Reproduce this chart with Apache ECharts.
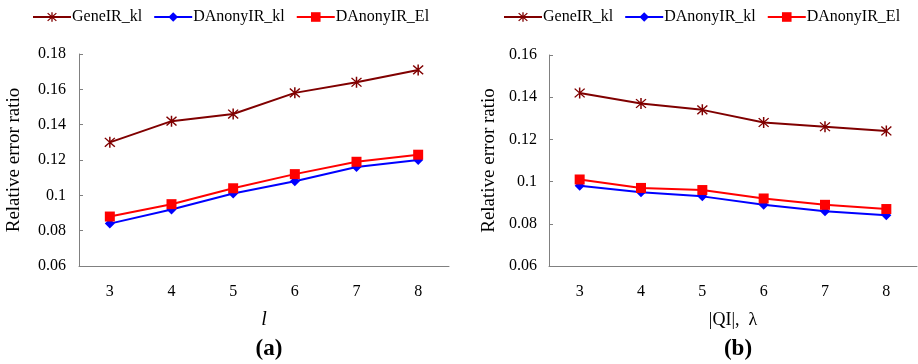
<!DOCTYPE html>
<html><head><meta charset="utf-8">
<script src="https://cdn.jsdelivr.net/npm/echarts@6/dist/echarts.min.js"></script>
<style>html,body{margin:0;padding:0;background:#fff}#c{width:918px;height:364px}</style>
</head><body><div id="c"></div>
<script>
const categories = ['3','4','5','6','7','8'];
const seriesNames = ['GeneIR_kl','DAnonyIR_kl','DAnonyIR_El'];
// Panel (a): x = l
const a_GeneIR_kl   = [0.130,0.142,0.146,0.158,0.164,0.171];
const a_DAnonyIR_kl = [0.084,0.092,0.101,0.108,0.116,0.120];
const a_DAnonyIR_El = [0.088,0.095,0.104,0.112,0.119,0.123];
// Panel (b): x = |QI|, lambda
const b_GeneIR_kl   = [0.142,0.137,0.134,0.128,0.126,0.124];
const b_DAnonyIR_kl = [0.098,0.095,0.093,0.089,0.086,0.084];
const b_DAnonyIR_El = [0.101,0.097,0.096,0.092,0.089,0.087];

const FONT = 'Liberation Serif';
const colors = ['#800000','#0000ff','#ff0000'];
const star = 'path://M4.4 0L5.6 0L5.6 10L4.4 10Z M0.6 1.4L1.4 0.6L9.4 8.6L8.6 9.4Z M8.6 0.6L9.4 1.4L1.4 9.4L0.6 8.6Z';
const symbols = [star,'diamond','rect'];
const sizes = [11,10,10];

const chart = echarts.init(document.getElementById('c'));
const axisLine = {lineStyle:{color:'#808080',width:1}};
const axisTick = {inside:true,length:4,lineStyle:{color:'#808080'}};
const lbl = {color:'#000',fontFamily:FONT,fontSize:16};

function mk(name, data, i, gi){
  return {name, type:'line', xAxisIndex:gi, yAxisIndex:gi, data,
    symbol:symbols[i], symbolSize:sizes[i], showSymbol:true,
    lineStyle:{color:colors[i],width:2}, itemStyle:{color:colors[i]}, z: i===2?3:(i===1?2:4), animation:false};
}
const legendBase = {orient:'horizontal',width:440,itemWidth:38,itemHeight:12,itemGap:11,selectedMode:false,
  textStyle:{color:'#000',fontFamily:FONT,fontSize:16,padding:[0,0,0,-4]},data:seriesNames};

chart.setOption({
  animation:false,
  color:colors,
  legend:[
    Object.assign({},legendBase,{left:27,top:4}),
    Object.assign({},legendBase,{left:498,top:4})
  ],
  title:[
    {text:'(a)',left:264,top:333,textAlign:'center',textStyle:{fontFamily:FONT,fontSize:23,fontWeight:'bold',color:'#000'}},
    {text:'(b)',left:733,top:333,textAlign:'center',textStyle:{fontFamily:FONT,fontSize:23,fontWeight:'bold',color:'#000'}}
  ],
  grid:[
    {left:79,top:54,width:370,height:212},
    {left:549,top:55,width:368,height:211}
  ],
  xAxis:[
    {gridIndex:0,type:'category',data:categories,boundaryGap:true,axisLine,axisTick,
     axisLabel:Object.assign({margin:18},lbl),name:'l',nameLocation:'middle',nameGap:44,
     nameTextStyle:{fontFamily:FONT,fontSize:20,fontStyle:'italic',color:'#000'}},
    {gridIndex:1,type:'category',data:categories,boundaryGap:true,axisLine,axisTick,
     axisLabel:Object.assign({margin:18},lbl),name:'|QI|,  λ',nameLocation:'middle',nameGap:45,
     nameTextStyle:{fontFamily:FONT,fontSize:18,color:'#000'}}
  ],
  yAxis:[
    {gridIndex:0,type:'value',min:0.06,max:0.18,interval:0.02,axisLine:Object.assign({show:true},axisLine),axisTick:Object.assign({show:true},axisTick),
     splitLine:{show:false},axisLabel:Object.assign({margin:13},lbl),name:'Relative error ratio',nameLocation:'middle',nameGap:55,
     nameTextStyle:{fontFamily:FONT,fontSize:19,color:'#000'}},
    {gridIndex:1,type:'value',min:0.06,max:0.16,interval:0.02,axisLine:Object.assign({show:true},axisLine),axisTick:Object.assign({show:true},axisTick),
     splitLine:{show:false},axisLabel:Object.assign({margin:12},lbl),name:'Relative error ratio',nameLocation:'middle',nameGap:50,
     nameTextStyle:{fontFamily:FONT,fontSize:19,color:'#000'}}
  ],
  series:[
    mk(seriesNames[0],a_GeneIR_kl,0,0),
    mk(seriesNames[1],a_DAnonyIR_kl,1,0),
    mk(seriesNames[2],a_DAnonyIR_El,2,0),
    mk(seriesNames[0],b_GeneIR_kl,0,1),
    mk(seriesNames[1],b_DAnonyIR_kl,1,1),
    mk(seriesNames[2],b_DAnonyIR_El,2,1)
  ]
});
</script></body></html>
